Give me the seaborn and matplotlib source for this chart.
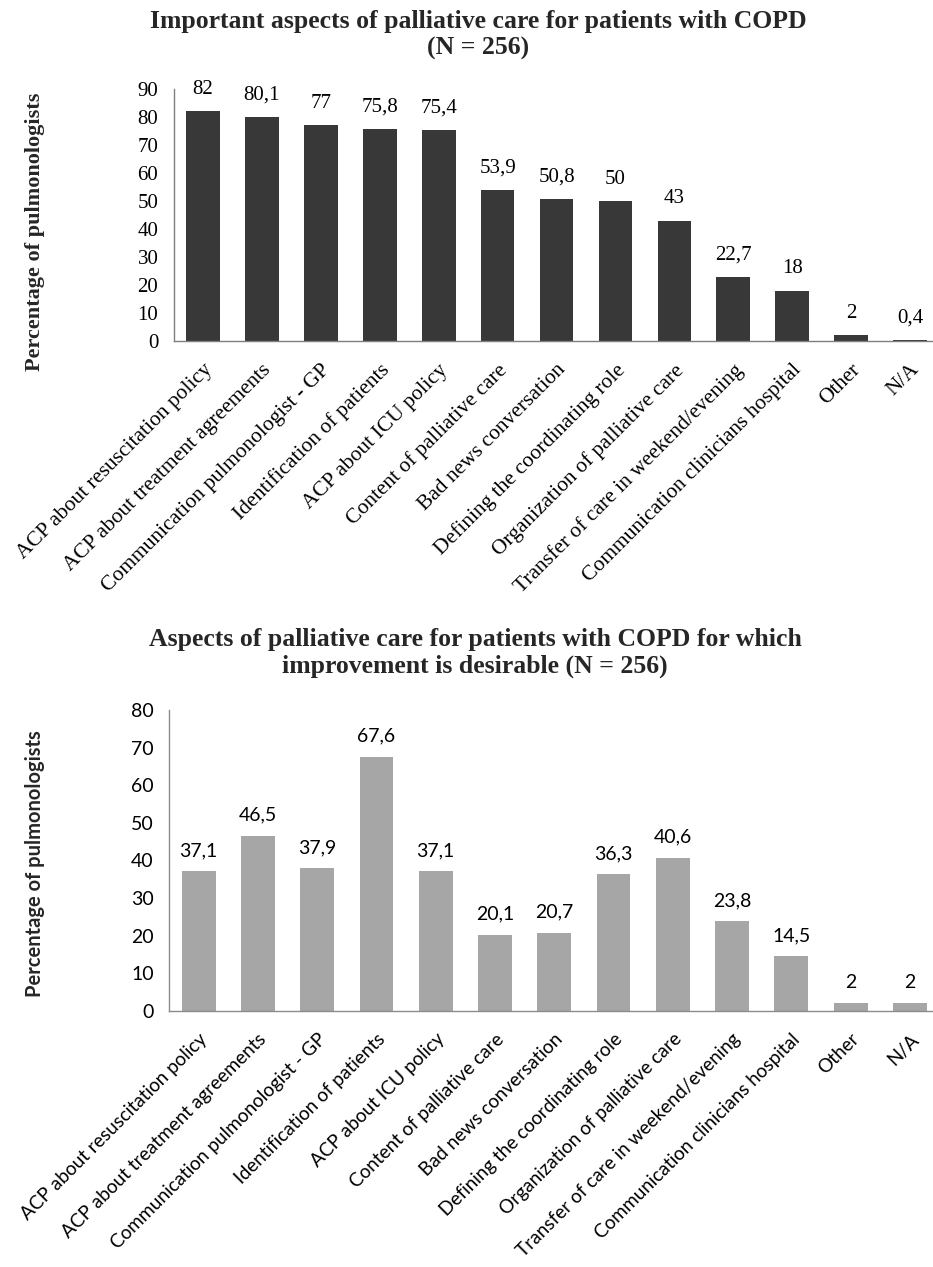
import matplotlib
matplotlib.use("Agg")
import matplotlib.pyplot as plt
import seaborn as sns
import pandas as pd

categories = [
    "ACP about resuscitation policy",
    "ACP about treatment agreements",
    "Communication pulmonologist - GP",
    "Identification of patients",
    "ACP about ICU policy",
    "Content of palliative care",
    "Bad news conversation",
    "Defining the coordinating role",
    "Organization of palliative care",
    "Transfer of care in weekend/evening",
    "Communication clinicians hospital",
    "Other",
    "N/A",
]
important_pct = [82, 80.1, 77, 75.8, 75.4, 53.9, 50.8, 50, 43, 22.7, 18, 2, 0.4]
improvement_pct = [37.1, 46.5, 37.9, 67.6, 37.1, 20.1, 20.7, 36.3, 40.6, 23.8, 14.5, 2, 2]

title_top = "Important aspects of palliative care for patients with COPD\n(N = 256)"
title_bottom = ("Aspects of palliative care for patients with COPD for which\n"
                "improvement is desirable (N = 256)")
y_label = "Percentage of pulmonologists"

sns.set_theme(style="white")
W, H = 933, 1267
fig = plt.figure(figsize=(W / 100, H / 100), dpi=100)

SERIF = "Liberation Serif"
SANS = "Lato"


def fmt(v):
    s = f"{v:g}"
    return s.replace(".", ",")


def draw(ax, values, color, font, tick_size, xtick_size, label_size, ymax,
         step, spine_color, xpad):
    df = pd.DataFrame({"cat": categories, "val": values})
    sns.barplot(data=df, x="cat", y="val", color=color, width=0.57,
                saturation=1, ax=ax, edgecolor="none")
    ax.set_ylim(0, ymax)
    ax.set_xlim(-0.5, 12.39)
    ax.set_yticks(range(0, ymax + 1, step))
    ax.set_xlabel("")
    ax.set_ylabel("")
    for s in ("top", "right"):
        ax.spines[s].set_visible(False)
    for s in ("left", "bottom"):
        ax.spines[s].set_color(spine_color)
        ax.spines[s].set_linewidth(1.0)
    ax.tick_params(axis="both", length=0)
    ax.tick_params(axis="y", pad=11)
    ax.tick_params(axis="x", pad=xpad)
    for t in ax.get_yticklabels():
        t.set_fontfamily(font)
        t.set_fontsize(tick_size)
        t.set_color("black")
    ax.set_xticks(range(len(categories)))
    ax.set_xticklabels(categories, rotation=45, ha="right",
                       rotation_mode="anchor", family=font,
                       fontsize=xtick_size, color="black")
    ax.bar_label(ax.containers[0], labels=[fmt(v) for v in values],
                 padding=9, family=font, fontsize=label_size, color="black")


# upper chart
ax1 = fig.add_axes([173.6 / W, 1 - 341 / H, 1 - 173.6 / W, (341 - 89) / H])
draw(ax1, important_pct, "#383838", SERIF, 15, 15.5, 15, 90, 10, "#7f7f7f", 14)
fig.text(478 / W, 1 - 35 / H, title_top, ha="center", va="center",
         family=SERIF, fontweight="bold", fontsize=18.5, linespacing=1.2)
fig.text(35 / W, 1 - 232 / H, y_label, rotation=90, ha="center", va="center",
         family=SERIF, fontweight="bold", fontsize=16)

# lower chart
ax2 = fig.add_axes([169 / W, 1 - 1011 / H, 1 - 169 / W, (1011 - 710) / H])
draw(ax2, improvement_pct, "#a6a6a6", SANS, 14, 13.7, 14, 80, 10, "#8c8c8c", 14)
fig.text(475 / W, 1 - 653 / H, title_bottom, ha="center", va="center",
         family=SERIF, fontweight="bold", fontsize=18.5, linespacing=1.2)
fig.text(35 / W, 1 - 864 / H, y_label, rotation=90, ha="center", va="center",
         family=SANS, fontweight="bold", fontsize=14.5)

fig.savefig("out.png", dpi=100)
